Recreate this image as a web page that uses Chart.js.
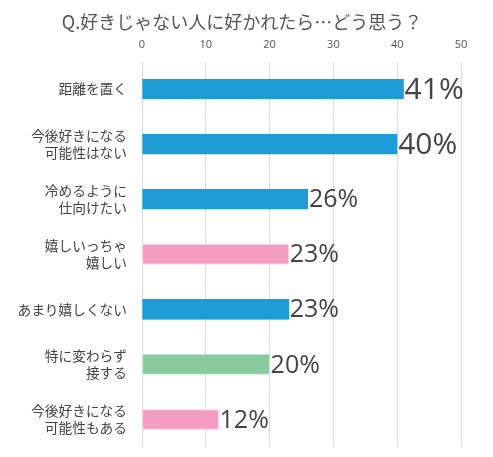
<!DOCTYPE html>
<html>
<head>
<meta charset="utf-8">
<script src="https://cdn.jsdelivr.net/npm/chart.js@4"></script>
<style>
  html, body { margin: 0; padding: 0; background: #fff; }
  #wrap { width: 493px; height: 457px; }
</style>
</head>
<body>
<div id="wrap"><canvas id="chart" width="493" height="457"></canvas></div>
<script>
// ---------------- Data ----------------
const titleText = "Q.好きじゃない人に好かれたら…どう思う？";
const categories = [
    ["距離を置く"],
    ["今後好きになる", "可能性はない"],
    ["冷めるように", "仕向けたい"],
    ["嬉しいっちゃ", "嬉しい"],
    ["あまり嬉しくない"],
    ["特に変わらず", "接する"],
    ["今後好きになる", "可能性もある"]
];
const values = [41, 40, 26, 23, 23, 20, 12];
const xTicks = [0, 10, 20, 30, 40, 50];

// ---------------- Styles ----------------
const BLUE = "#1e9cd8", PINK = "#f59cc3", GREEN = "#88cb9d";
const barColors = [BLUE, BLUE, BLUE, PINK, BLUE, GREEN, PINK];
const borderColors = ["#1e9cd8", "#1e9cd8", "#1e9cd8", "#fbd0e2", "#1e9cd8", "#c4e6cd", "#fbd0e2"];
const labelSizes = [30, 30, 25, 25, 25, 25, 25];
const cjk = "'Noto Sans CJK JP', 'Noto Sans', sans-serif";

// title + value labels
const extras = {
    id: "extras",
    afterDraw(chart) {
        const ctx = chart.ctx;
        ctx.save();
        ctx.fillStyle = "#555";
        ctx.font = "18px " + cjk;
        ctx.textAlign = "center";
        ctx.textBaseline = "middle";
        ctx.fillText(titleText, 242, 22);

        const meta = chart.getDatasetMeta(0);
        ctx.fillStyle = "#444";
        ctx.textAlign = "left";
        meta.data.forEach((bar, i) => {
            ctx.font = labelSizes[i] + "px 'Open Sans', sans-serif";
            ctx.fillText(values[i] + "%", bar.x + 1, bar.y + 1);
        });
        ctx.restore();
    }
};

new Chart(document.getElementById("chart"), {
    type: "bar",
    data: {
        labels: categories,
        datasets: [{
            data: values,
            backgroundColor: barColors,
            borderColor: borderColors,
            borderWidth: 1,
            borderSkipped: false,
            barThickness: 20
        }]
    },
    options: {
        indexAxis: "y",
        responsive: false,
        animation: false,
        layout: { padding: { top: 30, right: 32, bottom: 10, left: 0 } },
        plugins: {
            legend: { display: false },
            tooltip: { enabled: false }
        },
        scales: {
            x: {
                position: "top",
                min: 0,
                max: 50,
                afterBuildTicks: (s) => { s.ticks = xTicks.map(v => ({ value: v })); },
                afterFit: (s) => { s.height = 31.5; s.paddingLeft = 0; s.paddingRight = 0; },
                grid: { color: "#d9d9d9", drawTicks: false },
                border: { display: false },
                ticks: {
                    color: "#555",
                    padding: 10,
                    font: { size: 11, family: "'Open Sans', sans-serif" }
                }
            },
            y: {
                afterFit: (s) => { s.width = 142; s.paddingTop = 0; s.paddingBottom = 0; },
                grid: { display: false },
                border: { display: false },
                ticks: {
                    color: "#444",
                    padding: 7,
                    font: { size: 13.7, family: cjk, lineHeight: 1.2 }
                }
            }
        }
    },
    plugins: [extras]
});
</script>
</body>
</html>
